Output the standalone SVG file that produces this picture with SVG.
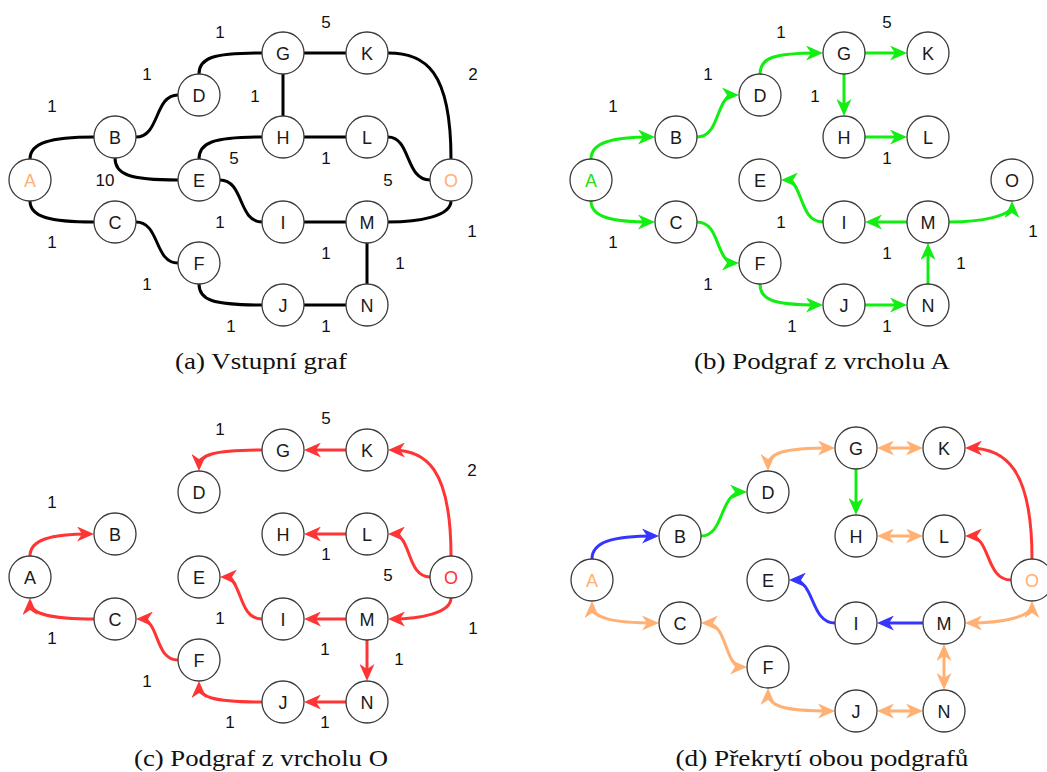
<svg xmlns="http://www.w3.org/2000/svg" width="1047" height="772" viewBox="0 0 1047 772">
  <style>
    .node circle { fill: #fff; stroke: #3a3a3a; stroke-width: 1.3; }
    .node text { font-family: "Liberation Sans", Arial, sans-serif; font-size: 18px; text-anchor: middle; fill: #1a1a1a; }
    .node text.src-o { fill: #ffb072; }
    .node text.src-g { fill: #22e022; }
    .node text.src-r { fill: #ff3535; }
    .w { font-family: "Liberation Sans", Arial, sans-serif; font-size: 17px; text-anchor: middle; fill: #111; }
    .e { fill: none; stroke-width: 3; }
    .k { stroke: #000; }
    .g { stroke: #11ee11; marker-end: url(#arr-g); }
    .r { stroke: #ff3535; marker-end: url(#arr-r); }
    .b { stroke: #3535ff; marker-end: url(#arr-b); }
    .o { stroke: #ffb072; marker-start: url(#arr-o); marker-end: url(#arr-o); }
    .cap { font-family: "Liberation Serif", "Times New Roman", serif; font-size: 23px; text-anchor: middle; fill: #111; }
  </style>
  <defs>
    <marker id="arr-g" markerUnits="userSpaceOnUse" markerWidth="17" markerHeight="15" viewBox="0 0 17 15" refX="13" refY="7.5" orient="auto-start-reverse">
      <path d="M0,0 L17,7.5 L0,15 L5,7.5 Z" fill="#11ee11"/>
    </marker>
    <marker id="arr-r" markerUnits="userSpaceOnUse" markerWidth="17" markerHeight="15" viewBox="0 0 17 15" refX="13" refY="7.5" orient="auto-start-reverse">
      <path d="M0,0 L17,7.5 L0,15 L5,7.5 Z" fill="#ff3535"/>
    </marker>
    <marker id="arr-b" markerUnits="userSpaceOnUse" markerWidth="17" markerHeight="15" viewBox="0 0 17 15" refX="13" refY="7.5" orient="auto-start-reverse">
      <path d="M0,0 L17,7.5 L0,15 L5,7.5 Z" fill="#3535ff"/>
    </marker>
    <marker id="arr-o" markerUnits="userSpaceOnUse" markerWidth="17" markerHeight="15" viewBox="0 0 17 15" refX="13" refY="7.5" orient="auto-start-reverse">
      <path d="M0,0 L17,7.5 L0,15 L5,7.5 Z" fill="#ffb072"/>
    </marker>
  </defs>
  <rect width="1047" height="772" fill="#fff"/>

  <!-- (a) input graph -->
  <g id="panel-a">
    <g id="a-edges" class="e k">
      <path d="M30,159 C30,143 50,137 94,137"/>
      <path d="M30,201 C30,217 50,222 94,222"/>
      <path d="M136,137 C160,137 154,95 178,95"/>
      <path d="M199,74 C199,58 212,53 262,53"/>
      <path d="M304,53 L346,53"/>
      <path d="M283,74 L283,116"/>
      <path d="M388,53 C425,53 451,70 451,159"/>
      <path d="M304,137 L346,137"/>
      <path d="M388,137 C411,137 405,180 430,180"/>
      <path d="M115,158 C115,174 128,180 178,180"/>
      <path d="M199,159 C199,143 212,137 262,137"/>
      <path d="M220,180 C244,180 238,222 262,222"/>
      <path d="M304,222 L346,222"/>
      <path d="M388,222 C420,222 451,216 451,201"/>
      <path d="M367,243 L367,284"/>
      <path d="M136,222 C160,222 154,263 178,263"/>
      <path d="M199,284 C199,300 212,305 262,305"/>
      <path d="M304,305 L346,305"/>
    </g>
    <g id="a-weights">
      <text class="w" x="52" y="112">1</text>
      <text class="w" x="147" y="80">1</text>
      <text class="w" x="220" y="38">1</text>
      <text class="w" x="326" y="28">5</text>
      <text class="w" x="473" y="80">2</text>
      <text class="w" x="255" y="102">1</text>
      <text class="w" x="234" y="164">5</text>
      <text class="w" x="326" y="164">1</text>
      <text class="w" x="105" y="186">10</text>
      <text class="w" x="388" y="186">5</text>
      <text class="w" x="220" y="228">1</text>
      <text class="w" x="52" y="248">1</text>
      <text class="w" x="472" y="237">1</text>
      <text class="w" x="326" y="259">1</text>
      <text class="w" x="400" y="269">1</text>
      <text class="w" x="147" y="290">1</text>
      <text class="w" x="231" y="332">1</text>
      <text class="w" x="326" y="332">1</text>
    </g>
    <g id="a-A" class="node"><circle cx="30" cy="180" r="21"/><text class="src-o" x="30" y="186.5">A</text></g>
    <g id="a-B" class="node"><circle cx="115" cy="137" r="21"/><text x="115" y="143.5">B</text></g>
    <g id="a-C" class="node"><circle cx="115" cy="222" r="21"/><text x="115" y="228.5">C</text></g>
    <g id="a-D" class="node"><circle cx="199" cy="95" r="21"/><text x="199" y="101.5">D</text></g>
    <g id="a-E" class="node"><circle cx="199" cy="180" r="21"/><text x="199" y="186.5">E</text></g>
    <g id="a-F" class="node"><circle cx="199" cy="263" r="21"/><text x="199" y="269.5">F</text></g>
    <g id="a-G" class="node"><circle cx="283" cy="53" r="21"/><text x="283" y="59.5">G</text></g>
    <g id="a-H" class="node"><circle cx="283" cy="137" r="21"/><text x="283" y="143.5">H</text></g>
    <g id="a-I" class="node"><circle cx="283" cy="222" r="21"/><text x="283" y="228.5">I</text></g>
    <g id="a-J" class="node"><circle cx="283" cy="305" r="21"/><text x="283" y="311.5">J</text></g>
    <g id="a-K" class="node"><circle cx="367" cy="53" r="21"/><text x="367" y="59.5">K</text></g>
    <g id="a-L" class="node"><circle cx="367" cy="137" r="21"/><text x="367" y="143.5">L</text></g>
    <g id="a-M" class="node"><circle cx="367" cy="222" r="21"/><text x="367" y="228.5">M</text></g>
    <g id="a-N" class="node"><circle cx="367" cy="305" r="21"/><text x="367" y="311.5">N</text></g>
    <g id="a-O" class="node"><circle cx="451" cy="180" r="21"/><text class="src-o" x="451" y="186.5">O</text></g>
    <text class="cap" x="261" y="369" textLength="172" lengthAdjust="spacingAndGlyphs">(a) Vstupní graf</text>
  </g>

  <!-- (b) subgraph from A -->
  <g id="panel-b" transform="translate(561,0)">
    <g id="b-edges" class="e g">
      <path d="M30,159 C30,143 50,137 90,137"/>
      <path d="M30,201 C30,217 50,222 90,222"/>
      <path d="M136,137 C160,137 154,95 174,95"/>
      <path d="M199,74 C199,58 212,53 258,53"/>
      <path d="M304,53 L342,53"/>
      <path d="M283,74 L283,112"/>
      <path d="M304,137 L342,137"/>
      <path d="M136,222 C160,222 154,263 174,263"/>
      <path d="M199,284 C199,300 212,305 258,305"/>
      <path d="M304,305 L342,305"/>
      <path d="M367,284 L367,247"/>
      <path d="M346,222 L308,222"/>
      <path d="M262,222 C237,222 243,180 224,180"/>
      <path d="M388,222 C420,222 451,216 451,205"/>
    </g>
    <g id="b-weights">
      <text class="w" x="52" y="112">1</text>
      <text class="w" x="147" y="80">1</text>
      <text class="w" x="220" y="38">1</text>
      <text class="w" x="326" y="28">5</text>
      <text class="w" x="254" y="102">1</text>
      <text class="w" x="326" y="164">1</text>
      <text class="w" x="220" y="228">1</text>
      <text class="w" x="52" y="248">1</text>
      <text class="w" x="472" y="237">1</text>
      <text class="w" x="326" y="259">1</text>
      <text class="w" x="400" y="269">1</text>
      <text class="w" x="147" y="290">1</text>
      <text class="w" x="231" y="332">1</text>
      <text class="w" x="326" y="332">1</text>
    </g>
    <g id="b-A" class="node"><circle cx="30" cy="180" r="21"/><text class="src-g" x="30" y="186.5">A</text></g>
    <g id="b-B" class="node"><circle cx="115" cy="137" r="21"/><text x="115" y="143.5">B</text></g>
    <g id="b-C" class="node"><circle cx="115" cy="222" r="21"/><text x="115" y="228.5">C</text></g>
    <g id="b-D" class="node"><circle cx="199" cy="95" r="21"/><text x="199" y="101.5">D</text></g>
    <g id="b-E" class="node"><circle cx="199" cy="180" r="21"/><text x="199" y="186.5">E</text></g>
    <g id="b-F" class="node"><circle cx="199" cy="263" r="21"/><text x="199" y="269.5">F</text></g>
    <g id="b-G" class="node"><circle cx="283" cy="53" r="21"/><text x="283" y="59.5">G</text></g>
    <g id="b-H" class="node"><circle cx="283" cy="137" r="21"/><text x="283" y="143.5">H</text></g>
    <g id="b-I" class="node"><circle cx="283" cy="222" r="21"/><text x="283" y="228.5">I</text></g>
    <g id="b-J" class="node"><circle cx="283" cy="305" r="21"/><text x="283" y="311.5">J</text></g>
    <g id="b-K" class="node"><circle cx="367" cy="53" r="21"/><text x="367" y="59.5">K</text></g>
    <g id="b-L" class="node"><circle cx="367" cy="137" r="21"/><text x="367" y="143.5">L</text></g>
    <g id="b-M" class="node"><circle cx="367" cy="222" r="21"/><text x="367" y="228.5">M</text></g>
    <g id="b-N" class="node"><circle cx="367" cy="305" r="21"/><text x="367" y="311.5">N</text></g>
    <g id="b-O" class="node"><circle cx="451" cy="180" r="21"/><text x="451" y="186.5">O</text></g>
    <text class="cap" x="261" y="369" textLength="256" lengthAdjust="spacingAndGlyphs">(b) Podgraf z vrcholu A</text>
  </g>

  <!-- (c) subgraph from O -->
  <g id="panel-c" transform="translate(0,397)">
    <g id="c-edges" class="e r">
      <path d="M451,159 C451,70 425,53 392,53"/>
      <path d="M346,53 L308,53"/>
      <path d="M262,53 C212,53 199,58 199,70"/>
      <path d="M430,180 C406,180 412,137 392,137"/>
      <path d="M346,137 L308,137"/>
      <path d="M451,201 C451,216 420,222 392,222"/>
      <path d="M346,222 L308,222"/>
      <path d="M262,222 C237,222 243,180 224,180"/>
      <path d="M367,243 L367,280"/>
      <path d="M346,305 L308,305"/>
      <path d="M262,305 C212,305 199,300 199,288"/>
      <path d="M178,263 C154,263 160,222 140,222"/>
      <path d="M94,222 C50,222 30,217 30,205"/>
      <path d="M30,159 C30,143 50,137 90,137"/>
    </g>
    <g id="c-weights">
      <text class="w" x="220" y="38">1</text>
      <text class="w" x="326" y="27">5</text>
      <text class="w" x="472" y="79">2</text>
      <text class="w" x="52" y="111">1</text>
      <text class="w" x="326" y="163">1</text>
      <text class="w" x="388" y="184">5</text>
      <text class="w" x="220" y="227">1</text>
      <text class="w" x="52" y="247">1</text>
      <text class="w" x="473" y="237">1</text>
      <text class="w" x="325" y="258">1</text>
      <text class="w" x="399" y="268">1</text>
      <text class="w" x="147" y="290">1</text>
      <text class="w" x="230" y="331">1</text>
      <text class="w" x="325" y="331">1</text>
    </g>
    <g id="c-A" class="node"><circle cx="30" cy="180" r="21"/><text x="30" y="186.5">A</text></g>
    <g id="c-B" class="node"><circle cx="115" cy="137" r="21"/><text x="115" y="143.5">B</text></g>
    <g id="c-C" class="node"><circle cx="115" cy="222" r="21"/><text x="115" y="228.5">C</text></g>
    <g id="c-D" class="node"><circle cx="199" cy="95" r="21"/><text x="199" y="101.5">D</text></g>
    <g id="c-E" class="node"><circle cx="199" cy="180" r="21"/><text x="199" y="186.5">E</text></g>
    <g id="c-F" class="node"><circle cx="199" cy="263" r="21"/><text x="199" y="269.5">F</text></g>
    <g id="c-G" class="node"><circle cx="283" cy="53" r="21"/><text x="283" y="59.5">G</text></g>
    <g id="c-H" class="node"><circle cx="283" cy="137" r="21"/><text x="283" y="143.5">H</text></g>
    <g id="c-I" class="node"><circle cx="283" cy="222" r="21"/><text x="283" y="228.5">I</text></g>
    <g id="c-J" class="node"><circle cx="283" cy="305" r="21"/><text x="283" y="311.5">J</text></g>
    <g id="c-K" class="node"><circle cx="367" cy="53" r="21"/><text x="367" y="59.5">K</text></g>
    <g id="c-L" class="node"><circle cx="367" cy="137" r="21"/><text x="367" y="143.5">L</text></g>
    <g id="c-M" class="node"><circle cx="367" cy="222" r="21"/><text x="367" y="228.5">M</text></g>
    <g id="c-N" class="node"><circle cx="367" cy="305" r="21"/><text x="367" y="311.5">N</text></g>
    <g id="c-O" class="node"><circle cx="451" cy="180" r="21"/><text class="src-r" x="451" y="186.5">O</text></g>
    <text class="cap" x="261" y="369" textLength="254" lengthAdjust="spacingAndGlyphs">(c) Podgraf z vrcholu O</text>
  </g>

  <!-- (d) overlay of both subgraphs -->
  <g id="panel-d">
    <g id="d-edges">
      <path class="e b" d="M592,559 C592,542 612,536 655,536"/>
      <path class="e g" d="M701,536 C725,536 719,492 743,492"/>
      <path class="e o" d="M768,467 C768,453 782,448 831,448"/>
      <path class="e o" d="M881,448 L919,448"/>
      <path class="e g" d="M856,469 L856,511"/>
      <path class="e r" d="M1032,559 C1032,468 1005,448 969,448"/>
      <path class="e o" d="M881,536 L919,536"/>
      <path class="e r" d="M1011,580 C985,580 991,536 969,536"/>
      <path class="e b" d="M835,623 C810,623 815,580 793,580"/>
      <path class="e b" d="M923,623 L881,623"/>
      <path class="e o" d="M969,623 C1002,623 1032,617 1032,605"/>
      <path class="e o" d="M592,605 C592,618 612,623 655,623"/>
      <path class="e o" d="M705,623 C729,623 723,667 743,667"/>
      <path class="e o" d="M768,692 C768,706 782,711 831,711"/>
      <path class="e o" d="M881,711 L919,711"/>
      <path class="e o" d="M944,648 L944,686"/>
    </g>
    <g id="d-A" class="node"><circle cx="592" cy="580" r="21"/><text class="src-o" x="592" y="586.5">A</text></g>
    <g id="d-B" class="node"><circle cx="680" cy="536" r="21"/><text x="680" y="542.5">B</text></g>
    <g id="d-C" class="node"><circle cx="680" cy="623" r="21"/><text x="680" y="629.5">C</text></g>
    <g id="d-D" class="node"><circle cx="768" cy="492" r="21"/><text x="768" y="498.5">D</text></g>
    <g id="d-E" class="node"><circle cx="768" cy="580" r="21"/><text x="768" y="586.5">E</text></g>
    <g id="d-F" class="node"><circle cx="768" cy="667" r="21"/><text x="768" y="673.5">F</text></g>
    <g id="d-G" class="node"><circle cx="856" cy="448" r="21"/><text x="856" y="454.5">G</text></g>
    <g id="d-H" class="node"><circle cx="856" cy="536" r="21"/><text x="856" y="542.5">H</text></g>
    <g id="d-I" class="node"><circle cx="856" cy="623" r="21"/><text x="856" y="629.5">I</text></g>
    <g id="d-J" class="node"><circle cx="856" cy="711" r="21"/><text x="856" y="717.5">J</text></g>
    <g id="d-K" class="node"><circle cx="944" cy="448" r="21"/><text x="944" y="454.5">K</text></g>
    <g id="d-L" class="node"><circle cx="944" cy="536" r="21"/><text x="944" y="542.5">L</text></g>
    <g id="d-M" class="node"><circle cx="944" cy="623" r="21"/><text x="944" y="629.5">M</text></g>
    <g id="d-N" class="node"><circle cx="944" cy="711" r="21"/><text x="944" y="717.5">N</text></g>
    <g id="d-O" class="node"><circle cx="1032" cy="580" r="21"/><text class="src-o" x="1032" y="586.5">O</text></g>
    <text class="cap" x="822" y="766" textLength="293" lengthAdjust="spacingAndGlyphs">(d) Překrytí obou podgrafů</text>
  </g>
</svg>
